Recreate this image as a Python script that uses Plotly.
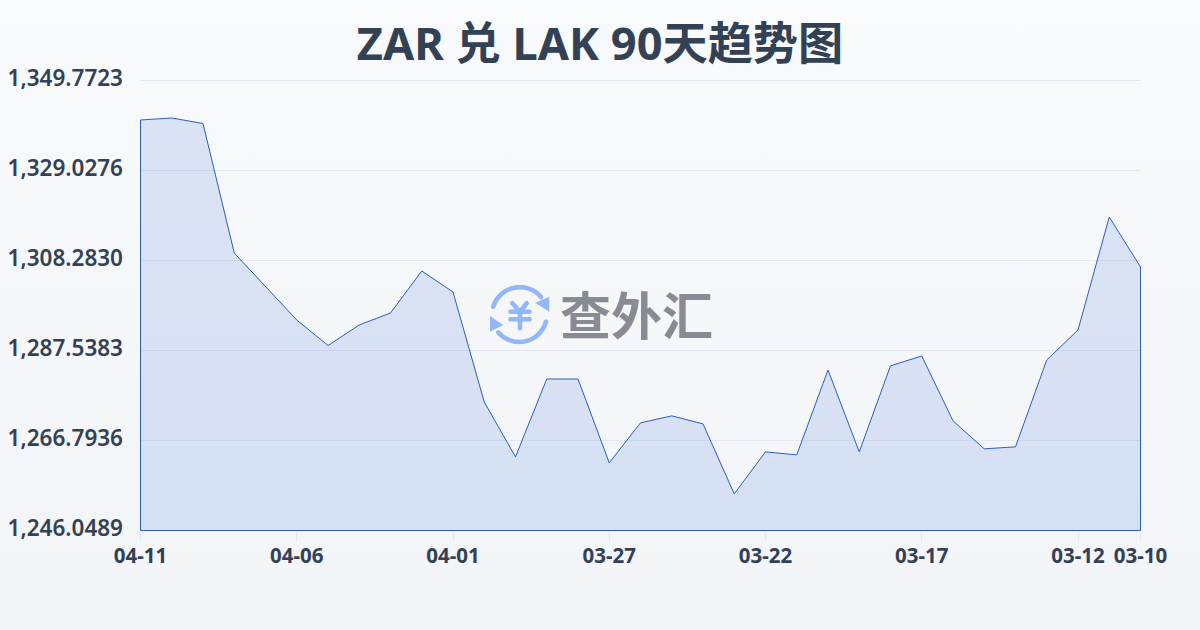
import base64
import plotly.graph_objects as go

dates = ["04-11","04-10","04-09","04-08","04-07","04-06","04-05","04-04","04-03","04-02","04-01",
         "03-31","03-30","03-29","03-28","03-27","03-26","03-25","03-24","03-23","03-22",
         "03-21","03-20","03-19","03-18","03-17","03-16","03-15","03-14","03-13","03-12","03-11","03-10"]
rates = [1340.67,1341.13,1339.86,1310.01,1302.18,1294.57,1288.69,1293.42,1296.18,1305.86,1301.02,
         1275.67,1263.02,1280.97,1280.97,1261.64,1270.86,1272.47,1270.63,1254.49,1264.17,
         1263.48,1283.04,1264.17,1284.00,1286.27,1271.32,1264.87,1265.33,1285.35,1292.26,1318.31,1306.79]
y_ticks = [1246.0489,1266.7936,1287.5383,1308.2830,1329.0276,1349.7723]
x_tick_labels = ["04-11","04-06","04-01","03-27","03-22","03-17","03-12","03-10"]
title_text = "ZAR 兑 LAK 90天趋势图"
watermark = "查外汇"

FONT = "'Noto Sans','Noto Sans CJK SC',sans-serif"
TXT = "#334155"

def uri(svg):
    return "data:image/svg+xml;base64," + base64.b64encode(svg.encode()).decode()

bg_svg = ('<svg xmlns="http://www.w3.org/2000/svg" width="1200" height="630" preserveAspectRatio="none">'
          '<defs><linearGradient id="g" x1="0" y1="0" x2="0" y2="1"><stop offset="0" stop-color="#f8fafc"/>'
          '<stop offset="1" stop-color="#f2f4f7"/></linearGradient></defs>'
          '<rect width="1200" height="630" fill="url(#g)"/></svg>')
logo_svg = ('<svg xmlns="http://www.w3.org/2000/svg" width="70" height="70" viewBox="0 0 70 70">'
            '<g fill="none" stroke="#93b8f8" stroke-width="4.6" stroke-linecap="round" stroke-linejoin="round">'
            '<path d="M8.3 26.7 A27.7 27.7 0 0 1 56 17"/><path d="M61 41.7 A27.7 27.7 0 0 1 13.4 52.4"/>'
            '<path d="M27.3 23.3 L35 31.7 L41.7 23.3 M25.5 31.7 H44.5 M25.5 39.3 H44.5 M35 31.7 V48.3"/></g>'
            '<path d="M50 22.7 L64.3 16.7 L64.3 31.7 Z M18.3 45 L5 51.7 L5 36 Z" fill="#93b8f8"/></svg>')

idx = list(range(len(dates)))
tickpos = [dates.index(d) for d in x_tick_labels]
base = y_ticks[0]

# plot frame is on whole pixels (Plotly rounds margins); ranges put the data on half pixels
L, T, W, H = 140, 78, 1001, 453
px_x = 1000 / (idx[-1] - idx[0])
px_y = 450 / (y_ticks[-1] - y_ticks[0])
px = lambda v: (v - L) / W
py = lambda v: 1 - (v - T) / H

fig = go.Figure(go.Scatter(
    x=[idx[0]] + idx + [idx[-1], idx[0]],
    y=[base] + rates + [base, base],
    mode="lines", fill="toself",
    fillcolor="rgba(44,96,214,0.14)",
    line=dict(color="#2b5cc0", width=1),
    hoverinfo="skip", showlegend=False,
))

fig.update_layout(
    width=1200, height=630, autosize=False,
    margin=dict(l=L, r=1200 - L - W, t=T, b=630 - T - H, pad=0, autoexpand=False),
    paper_bgcolor="rgba(0,0,0,0)", plot_bgcolor="rgba(0,0,0,0)",
    font=dict(family=FONT, color=TXT),
    title=dict(text=title_text, x=0.5, xanchor="center", y=0.93, yanchor="middle",
               font=dict(size=45.2, family=FONT, color=TXT, weight=700)),
    xaxis=dict(range=[idx[0] - 0.5 / px_x, idx[-1] + 0.5 / px_x], tickmode="array", tickvals=tickpos, ticktext=x_tick_labels,
               automargin=False,
               showgrid=False, zeroline=False, showline=False, ticks="outside", ticklen=10,
               tickcolor="#e2e8f0", tickwidth=1, ticklabelstandoff=-4,
               tickfont=dict(size=20.5, family=FONT, color=TXT, weight=700)),
    yaxis=dict(range=[y_ticks[0] - 0.5 / px_y, y_ticks[-1] + 2.5 / px_y], tickmode="array", tickvals=y_ticks,
               ticktext=[f"{v:,.4f}" for v in y_ticks],
               automargin=False,
               showgrid=True, gridcolor="#e2e8f0", gridwidth=1, zeroline=False, showline=False,
               ticks="", ticklabelstandoff=16, ticklabelshift=-2,
               tickfont=dict(size=22.5, family=FONT, color=TXT, weight=600)),
    images=[
        dict(source=uri(bg_svg), xref="paper", yref="paper", x=px(0), y=py(0),
             sizex=1200 / W, sizey=630 / H, sizing="stretch", xanchor="left", yanchor="top", layer="below"),
        dict(source=uri(logo_svg), xref="paper", yref="paper", x=px(485), y=py(280),
             sizex=70 / W, sizey=70 / H, xanchor="left", yanchor="top", layer="above"),
    ],
    annotations=[dict(text=watermark, xref="paper", yref="paper", x=px(636), y=py(313),
                      xanchor="center", yanchor="middle", showarrow=False,
                      font=dict(size=51, family="'Noto Sans CJK SC',sans-serif", color="#868b94", weight=700))],
)
fig.write_html("out.html", config={"displayModeBar": False}, post_script="document.body.style.margin='0';")
